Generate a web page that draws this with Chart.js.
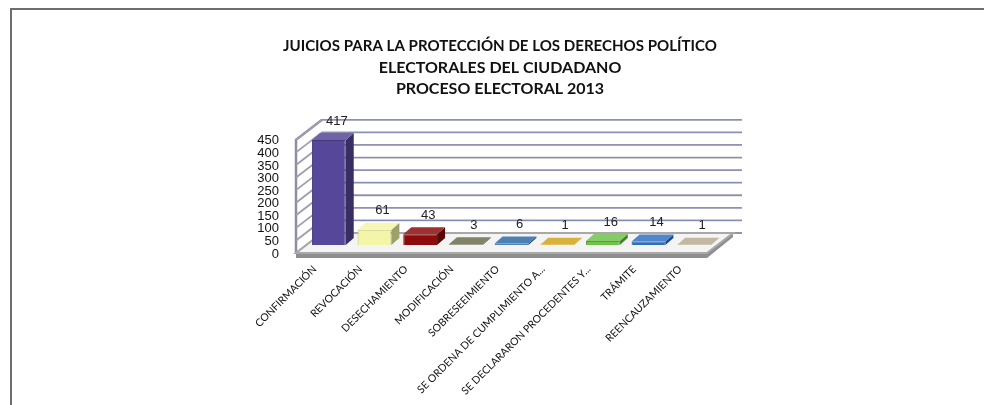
<!DOCTYPE html>
<html>
<head>
<meta charset="utf-8">
<script src="https://cdn.jsdelivr.net/npm/chart.js@4/dist/chart.umd.min.js"></script>
<style>
  html, body { margin: 0; padding: 0; background: #ffffff; }
  #wrap { position: relative; width: 984px; height: 405px; overflow: hidden; }
  #frame { position: absolute; left: 10px; top: 8px; width: 990px; height: 410px;
           border-top: 2px solid #6e6e6e; border-left: 2px solid #6e6e6e; box-sizing: border-box; }
  canvas { position: absolute; left: 0; top: 0; }
</style>
</head>
<body>
<div id="wrap">
  <div id="frame"></div>
  <canvas id="c" width="984" height="405"></canvas>
</div>
<script>
const titleLines = [
  'JUICIOS PARA LA PROTECCIÓN DE LOS DERECHOS POLÍTICO',
  'ELECTORALES DEL CIUDADANO',
  'PROCESO ELECTORAL 2013'
];
const categories = [
  'CONFIRMACIÓN',
  'REVOCACIÓN',
  'DESECHAMIENTO',
  'MODIFICACIÓN',
  'SOBRESEEIMIENTO',
  'SE ORDENA DE CUMPLIMIENTO A...',
  'SE DECLARARON PROCEDENTES Y...',
  'TRÁMITE',
  'REENCAUZAMIENTO'
];
const values = [417, 61, 43, 3, 6, 1, 16, 14, 1];
const barColors = ['#57479a', '#f3f6a6', '#8e0b0b', '#6b6c4c', '#2f6aa6', '#d2a418', '#6fc24c', '#2f6fc2', '#b9aa92'];
const yTicks = [0, 50, 100, 150, 200, 250, 300, 350, 400, 450];

function shade(hex, f) {
  const n = parseInt(hex.slice(1), 16);
  let r = (n >> 16) & 255, g = (n >> 8) & 255, b = n & 255;
  if (f < 0) { r = r * (1 + f); g = g * (1 + f); b = b * (1 + f); }
  else { r = r + (255 - r) * f; g = g + (255 - g) * f; b = b + (255 - b) * f; }
  return 'rgb(' + Math.round(r) + ',' + Math.round(g) + ',' + Math.round(b) + ')';
}

const FRONT = { dx: -10, dy: 8 };   // floor front edge relative to bar plane
const BACK = { dx: 16, dy: -12 };   // back wall relative to bar plane
const DEPTH = { dx: 8, dy: -7 };    // bar depth

const scene3d = {
  id: 'scene3d',
  afterLayout(chart) {
    chart.scales.y.left = 230;
  },
  beforeDatasetsDraw(chart) {
    const ctx = chart.ctx, ca = chart.chartArea, y = chart.scales.y;
    const y0 = y.getPixelForValue(0), yTop = y.getPixelForValue(yTicks[yTicks.length - 1]);
    ctx.save();
    ctx.fillStyle = '#ffffff';
    ctx.beginPath();
    ctx.moveTo(ca.left + FRONT.dx, y0 + FRONT.dy);
    ctx.lineTo(ca.left + FRONT.dx, yTop + FRONT.dy);
    ctx.lineTo(ca.left + BACK.dx, yTop + BACK.dy);
    ctx.lineTo(ca.left + BACK.dx, y0 + BACK.dy);
    ctx.closePath();
    ctx.fill();
    ctx.lineWidth = 2.5;
    ctx.strokeStyle = '#8f8da6';
    ctx.beginPath();
    ctx.moveTo(ca.left + FRONT.dx, y0 + FRONT.dy);
    ctx.lineTo(ca.left + FRONT.dx, yTop + FRONT.dy);
    ctx.lineTo(ca.left + BACK.dx, yTop + BACK.dy);
    ctx.stroke();
    yTicks.forEach(v => {
      const py = y.getPixelForValue(v);
      ctx.lineWidth = 1.8;
      ctx.strokeStyle = '#a09cb0';
      ctx.beginPath();
      ctx.moveTo(ca.left + FRONT.dx, py + FRONT.dy);
      ctx.lineTo(ca.left + BACK.dx, py + BACK.dy);
      ctx.lineTo(ca.right + BACK.dx + 9, py + BACK.dy);
      ctx.stroke();
      ctx.strokeStyle = 'rgba(80,110,190,0.45)';
      ctx.lineWidth = 0.8;
      ctx.beginPath();
      ctx.moveTo(ca.left + BACK.dx, py + BACK.dy);
      ctx.lineTo(ca.right + BACK.dx + 9, py + BACK.dy);
      ctx.stroke();
    });
    const fl = ca.left + FRONT.dx, fr = ca.right + FRONT.dx, fy = y0 + FRONT.dy;
    const bl = ca.left + BACK.dx, br = ca.right + BACK.dx, by = y0 + BACK.dy;
    ctx.fillStyle = '#8e8e8e';
    ctx.beginPath();
    ctx.moveTo(fl, fy); ctx.lineTo(fr, fy); ctx.lineTo(br, by); ctx.lineTo(br, by + 4);
    ctx.lineTo(fr, fy + 5); ctx.lineTo(fl, fy + 5); ctx.closePath();
    ctx.fill();
    ctx.fillStyle = '#f4f4f4';
    ctx.strokeStyle = '#a8a8a8';
    ctx.lineWidth = 2;
    ctx.beginPath();
    ctx.moveTo(fl, fy); ctx.lineTo(fr, fy); ctx.lineTo(br, by); ctx.lineTo(bl, by);
    ctx.closePath();
    ctx.fill();
    ctx.stroke();
    ctx.restore();
  },
  afterDatasetsDraw(chart) {
    const ctx = chart.ctx;
    const meta = chart.getDatasetMeta(0);
    ctx.save();
    meta.data.forEach((bar, i) => {
      const p = bar.getProps(['x', 'y', 'base', 'width'], true);
      const l = p.x - p.width / 2, r = p.x + p.width / 2, t = p.y, b = p.base;
      const c = barColors[i];
      ctx.fillStyle = shade(c, -0.35);
      ctx.beginPath();
      ctx.moveTo(r, t); ctx.lineTo(r + DEPTH.dx, t + DEPTH.dy);
      ctx.lineTo(r + DEPTH.dx, b + DEPTH.dy); ctx.lineTo(r, b); ctx.closePath();
      ctx.fill();
      ctx.fillStyle = shade(c, 0.15);
      ctx.beginPath();
      ctx.moveTo(l, t); ctx.lineTo(r, t);
      ctx.lineTo(r + DEPTH.dx, t + DEPTH.dy); ctx.lineTo(l + DEPTH.dx, t + DEPTH.dy); ctx.closePath();
      ctx.fill();
      ctx.fillStyle = '#222222';
      ctx.font = '13px "Liberation Sans", Arial, sans-serif';
      ctx.textAlign = 'center';
      ctx.textBaseline = 'middle';
      ctx.fillText(String(values[i]), p.x + 8, t - 19);
    });
    ctx.restore();
  }
};

new Chart(document.getElementById('c'), {
  type: 'bar',
  data: {
    labels: categories,
    datasets: [{
      data: values,
      backgroundColor: barColors,
      borderColor: barColors.map(c => shade(c, -0.2)),
      borderWidth: 1,
      barPercentage: 0.74,
      categoryPercentage: 1
    }]
  },
  options: {
    responsive: false,
    animation: false,
    devicePixelRatio: 1,
    layout: { padding: { left: 283, right: 267, top: 35, bottom: 0 } },
    plugins: {
      legend: { display: false },
      tooltip: { enabled: false },
      title: {
        display: true,
        text: titleLines,
        color: '#111111',
        font: { family: 'Lato, "Open Sans", sans-serif', size: 16, weight: 'bold', lineHeight: 1.35 },
        padding: { top: 0, bottom: 32 }
      }
    },
    scales: {
      x: {
        grid: { display: false, drawTicks: false },
        border: { display: false },
        ticks: {
          autoSkip: false,
          minRotation: 45,
          maxRotation: 45,
          padding: 18,
          labelOffset: -14,
          color: '#111111',
          font: { family: 'Lato, "Open Sans", sans-serif', size: 10.5 }
        },
        afterFit(s) { s.height = 160; }
      },
      y: {
        min: 0,
        max: 450,
        grid: { display: false, drawTicks: false },
        border: { display: false },
        ticks: {
          autoSkip: false,
          padding: 27,
          labelOffset: 9,
          color: '#111111',
          font: { family: '"Liberation Sans", Arial, sans-serif', size: 13 }
        },
        afterBuildTicks(s) { s.ticks = yTicks.map(v => ({ value: v })); },
        afterFit(s) { s.width = 23; }
      }
    }
  },
  plugins: [scene3d]
});
</script>
</body>
</html>
